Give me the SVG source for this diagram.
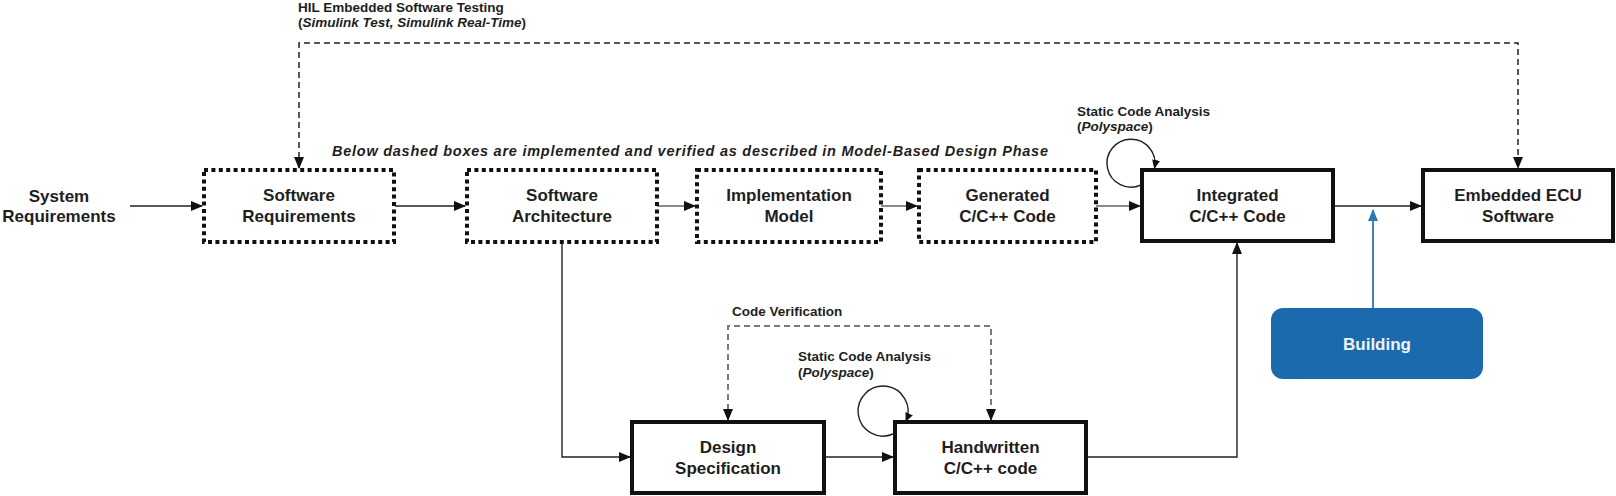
<svg xmlns="http://www.w3.org/2000/svg" width="1616" height="496" viewBox="0 0 1616 496">
<style>
text{font-family:"Liberation Sans",Arial,sans-serif;font-weight:bold;fill:#1e1e1e}
.lbl{font-size:17px;text-anchor:middle}
.sm{font-size:13.5px}
.it{font-style:italic}
.dot{fill:#fff;stroke:#111;stroke-width:4;stroke-dasharray:4 3.4}
.solid{fill:#fff;stroke:#111;stroke-width:4}
.ln{fill:none;stroke:#222;stroke-width:1.4}
.gl{fill:none;stroke:#8a8a8a;stroke-width:1.8}
.dsh{fill:none;stroke:#222;stroke-width:1.5;stroke-dasharray:6 4}
.gdsh{fill:none;stroke:#7a7a7a;stroke-width:2;stroke-dasharray:6 4}
.blue{fill:none;stroke:#2a78b6;stroke-width:1.8}
</style>
<defs>
<marker id="ah" markerUnits="userSpaceOnUse" markerWidth="12" markerHeight="10" refX="11" refY="5" orient="auto-start-reverse" viewBox="0 0 12 10">
<path d="M0,0 L12,5 L0,10 z" fill="#111"/>
</marker>
<marker id="ahs" markerUnits="userSpaceOnUse" markerWidth="9" markerHeight="8" refX="8" refY="4" orient="auto" viewBox="0 0 9 8">
<path d="M0,0 L9,4 L0,8 z" fill="#111"/>
</marker>
<marker id="ahb" markerUnits="userSpaceOnUse" markerWidth="12" markerHeight="10" refX="11" refY="5" orient="auto" viewBox="0 0 12 10">
<path d="M0,0 L12,5 L0,10 z" fill="#2a78b6"/>
</marker>
</defs>

<g id="connectors">
<path class="dsh" d="M299 168 V43 H1518 V168" marker-start="url(#ah)" marker-end="url(#ah)"/>
<path class="ln" d="M130 206 H202" marker-end="url(#ah)"/>
<path class="ln" d="M395 206 H465" marker-end="url(#ah)"/>
<path class="gl" d="M657 206 H695" marker-end="url(#ah)"/>
<path class="gl" d="M881 206 H917" marker-end="url(#ah)"/>
<path class="gl" d="M1096 206 H1140" marker-end="url(#ah)"/>
<path class="ln" d="M1333 206 H1421" marker-end="url(#ah)"/>
<path class="ln" d="M562 242 V457 H630" marker-end="url(#ah)"/>
<path class="ln" d="M824 457 H893" marker-end="url(#ah)"/>
<path class="ln" d="M1086 457 H1237 V243" marker-end="url(#ah)"/>
<path class="gdsh" d="M728 420 V326 H991 V420" marker-start="url(#ah)" marker-end="url(#ah)"/>
<path class="blue" d="M1373 308 V210" marker-end="url(#ahb)"/>
<path class="ln" d="M1141 185 A24 24 0 1 1 1154.5 168" marker-end="url(#ahs)"/>
<path class="ln" d="M893 434 A25 25 0 1 1 906 421" marker-end="url(#ahs)"/>
</g>

<g id="labels">
<text class="sm" x="298" y="12">HIL Embedded Software Testing</text>
<text class="sm" x="298" y="27">(<tspan class="it">Simulink Test, Simulink Real-Time</tspan>)</text>
<text class="it" x="332" y="156" font-size="14.5" textLength="716">Below dashed boxes are implemented and verified as described in Model-Based Design Phase</text>
<text class="sm" x="1077" y="116">Static Code Analysis</text>
<text class="sm" x="1077" y="131">(<tspan class="it">Polyspace</tspan>)</text>
<text class="sm" x="732" y="316">Code Verification</text>
<text class="sm" x="798" y="361">Static Code Analysis</text>
<text class="sm" x="798" y="377">(<tspan class="it">Polyspace</tspan>)</text>
</g>

<g id="system-requirements">
<text class="lbl" x="59" y="202">System</text>
<text class="lbl" x="59" y="222">Requirements</text>
</g>

<g id="software-requirements">
<rect class="dot" x="204" y="170" width="190" height="72"/>
<text class="lbl" x="299" y="201">Software</text>
<text class="lbl" x="299" y="222">Requirements</text>
</g>

<g id="software-architecture">
<rect class="dot" x="467" y="170" width="190" height="72"/>
<text class="lbl" x="562" y="201">Software</text>
<text class="lbl" x="562" y="222">Architecture</text>
</g>

<g id="implementation-model">
<rect class="dot" x="697" y="170" width="184" height="72"/>
<text class="lbl" x="789" y="201">Implementation</text>
<text class="lbl" x="789" y="222">Model</text>
</g>

<g id="generated-code">
<rect class="dot" x="919" y="170" width="177" height="72"/>
<text class="lbl" x="1007.5" y="201">Generated</text>
<text class="lbl" x="1007.5" y="222">C/C++ Code</text>
</g>

<g id="integrated-code">
<rect class="solid" x="1142" y="170" width="191" height="71"/>
<text class="lbl" x="1237.5" y="201">Integrated</text>
<text class="lbl" x="1237.5" y="222">C/C++ Code</text>
</g>

<g id="embedded-ecu-software">
<rect class="solid" x="1423" y="170" width="190" height="71"/>
<text class="lbl" x="1518" y="201">Embedded ECU</text>
<text class="lbl" x="1518" y="222">Software</text>
</g>

<g id="design-specification">
<rect class="solid" x="632" y="422" width="192" height="71"/>
<text class="lbl" x="728" y="453">Design</text>
<text class="lbl" x="728" y="474">Specification</text>
</g>

<g id="handwritten-code">
<rect class="solid" x="895" y="422" width="191" height="71"/>
<text class="lbl" x="990.5" y="453">Handwritten</text>
<text class="lbl" x="990.5" y="474">C/C++ code</text>
</g>

<g id="building">
<rect x="1271" y="308" width="212" height="71" rx="12" fill="#1a6aad"/>
<text class="lbl" x="1377" y="350" style="fill:#eef4fa">Building</text>
</g>
</svg>
